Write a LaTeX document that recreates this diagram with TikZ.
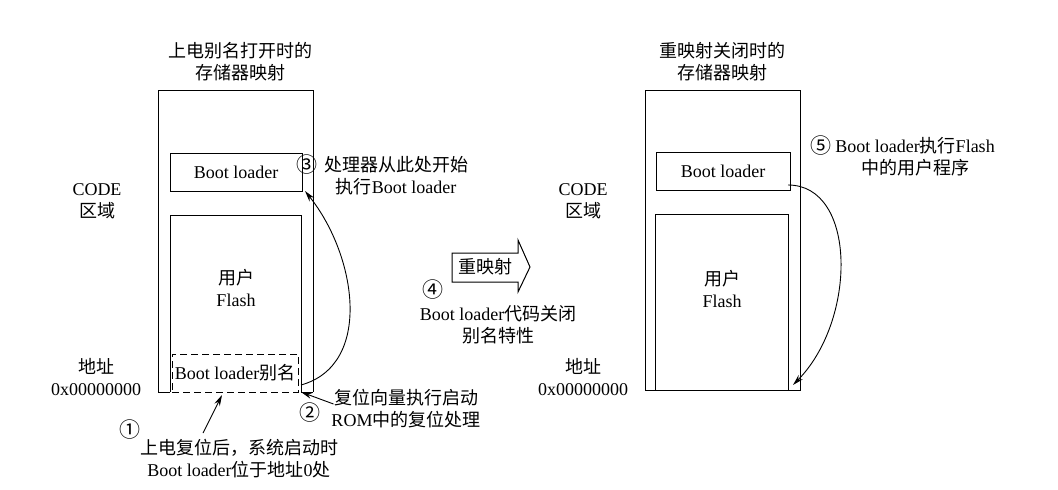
\documentclass[tikz,border=0pt]{standalone}
\usepackage{fontspec}
\setmainfont{Liberation Serif}
\newfontfamily\cjk{Noto Sans CJK SC}
\newcommand\zh[1]{{\cjk #1}}
\newcommand\figfont{\fontsize{18}{22}\selectfont}
\newcommand\circfont{\cjk\fontsize{21}{22}\selectfont}
\usetikzlibrary{arrows.meta}
\begin{document}
\begin{tikzpicture}[x=1pt,y=-1pt,
  every node/.style={inner sep=0pt, outer sep=0pt, font=\figfont},
  box/.style={draw, line width=1pt},
  region/.style={rectangle},
  txt/.style={align=center},
  circnum/.style={font=\circfont},
  ln/.style={line width=1pt},
  arr/.style={line width=0.9pt, -{Stealth[length=11pt,width=6pt]}}]
\useasboundingbox[fill=white] (0,0) rectangle (1058,490);

% ---------- left memory map ----------
\node[region, minimum width=155pt, minimum height=302pt] (outerL) at (235.5,241) {};
\node[box, minimum width=132pt, minimum height=38pt] (blL) at (236,172) {Boot loader};
\node[region, minimum width=131pt, minimum height=177pt] (flashL) at (235.5,303.5) {};
\node[box, dash pattern=on 7pt off 4pt, minimum width=126pt, minimum height=38pt] (aliasL) at (235,373) {Boot loader\zh{别名}};
\draw[ln] (outerL.south west) -- (outerL.north west) -- (outerL.north east) -- (outerL.south east);
\draw[ln] (outerL.south west) -- (flashL.south west);
\draw[ln] (flashL.south east) -- (outerL.south east);
\draw[ln] (flashL.south west) -- (flashL.north west) -- (flashL.north east) -- (flashL.south east);
\node[txt] (userL) at (236,288) {\zh{用户}\\Flash};
\node[txt] (titleL) at (240,62) {\zh{上电别名打开时的}\\\zh{存储器映射}};
\node[txt] (codeL) at (97,201) {CODE\\\zh{区域}};
\node[txt] (addrL) at (96,377) {\zh{地址}\\0x00000000};

% ---------- right memory map ----------
\node[box, minimum width=155pt, minimum height=300pt] (outerR) at (722.5,240) {};
\node[box, minimum width=134pt, minimum height=38pt] (blR) at (723,171) {Boot loader};
\node[box, minimum width=133pt, minimum height=176pt] (flashR) at (721.5,302) {};
\node[txt] (userR) at (722,289) {\zh{用户}\\Flash};
\node[txt] (titleR) at (722,62) {\zh{重映射关闭时的}\\\zh{存储器映射}};
\node[txt] (codeR) at (583,201) {CODE\\\zh{区域}};
\node[txt] (addrR) at (583,377) {\zh{地址}\\0x00000000};

% ---------- labels ----------
\node[circnum] (c3) at (307,165) {③};
\node[txt] (lab3) at (396,176) {\zh{处理器从此处开始}\\\zh{执行}Boot loader};
\node[circnum] (c2) at (310,413) {②};
\node[txt] (lab2) at (406,409) {\zh{复位向量执行启动}\\ROM\zh{中的复位处理}};
\node[circnum] (c1) at (130,430) {①};
\node[txt] (lab1) at (239,459) {\zh{上电复位后，系统启动时}\\Boot loader\zh{位于地址}0\zh{处}};
\node[circnum] (c4) at (433,290) {④};
\node[txt] (lab4) at (498,325) {Boot loader\zh{代码关闭}\\\zh{别名特性}};
\node[circnum] (c5) at (821,146) {⑤};
\node[txt] (lab5) at (915,157) {Boot loader\zh{执行}Flash\\\zh{中的用户程序}};

% ---------- remap block arrow ----------
\draw[line width=1pt] (452,253) -- (518,253) -- (518,240) -- (530,267) -- (518,292) -- (518,282) -- (452,282) -- cycle;
\node (remap) at (485,267) {\zh{重映射}};

% ---------- connectors ----------
\draw[arr] ([yshift=7pt]flashL.south east) .. controls +(72,-20) and +(52,65) .. ([xshift=3pt]blL.south east);
\draw[arr] ([xshift=2pt,yshift=5pt]lab2.west) -- (flashL.south east);
\coordinate (t1) at (203,433);
\draw[arr] (t1) -- ([xshift=-13pt,yshift=-3pt]aliasL.south);
\draw[arr] ([xshift=-2pt,yshift=5pt]blR.south east) .. controls +(69,0) and +(64,-65) .. ([xshift=5pt,yshift=5pt]flashR.south east);
\end{tikzpicture}
\end{document}
